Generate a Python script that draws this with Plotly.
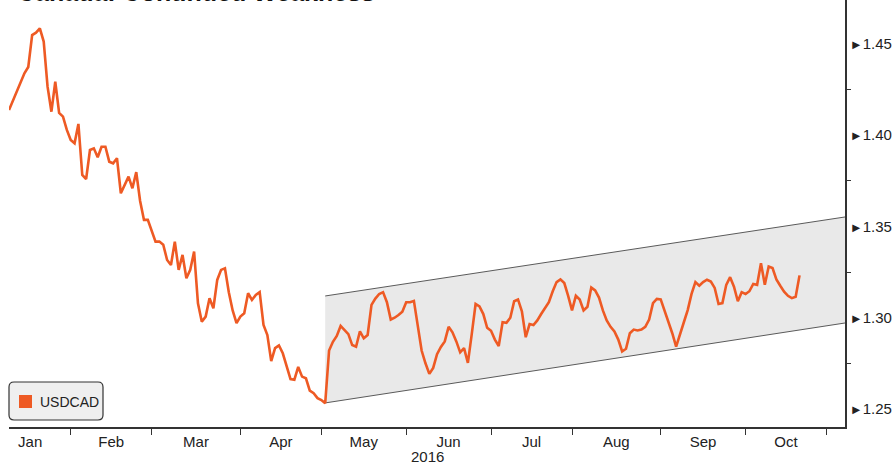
import pandas as pd
import plotly.graph_objects as go

# USDCAD daily closes (weekdays), starting Friday 8 Jan 2016
start_date = "2016-01-08"
usdcad = [
    1.4138, 1.4189, 1.4239, 1.4289, 1.4339, 1.4374, 1.4549, 1.4562, 1.4586, 1.4513,
    1.4266, 1.4129, 1.4293, 1.4122, 1.4102, 1.4029, 1.3974, 1.3956, 1.4062, 1.3782,
    1.3759, 1.3919, 1.3928, 1.3879, 1.3937, 1.3937, 1.3855, 1.3846, 1.3874, 1.3682,
    1.3727, 1.3773, 1.3709, 1.3798, 1.3640, 1.3536, 1.3536, 1.3470, 1.3417, 1.3417,
    1.3400, 1.3316, 1.3289, 1.3417, 1.3262, 1.3344, 1.3216, 1.3262, 1.3362, 1.3079,
    1.2978, 1.3006, 1.3107, 1.3052, 1.3207, 1.3262, 1.3271, 1.3140, 1.3040, 1.2970,
    1.3006, 1.3024, 1.3134, 1.3097, 1.3125, 1.3140, 1.2960, 1.2905, 1.2762, 1.2833,
    1.2848, 1.2805, 1.2739, 1.2664, 1.2660, 1.2730, 1.2677, 1.2668, 1.2600, 1.2586,
    1.2559, 1.2549, 1.2531, 1.2820, 1.2868, 1.2900, 1.2955, 1.2930, 1.2910, 1.2850,
    1.2841, 1.2925, 1.2887, 1.2905, 1.3070, 1.3105, 1.3130, 1.3140, 1.3085, 1.2990,
    1.3000, 1.3015, 1.3033, 1.3085, 1.3085, 1.3092, 1.2945, 1.2820, 1.2750, 1.2692,
    1.2725, 1.2800, 1.2840, 1.2870, 1.2950, 1.2920, 1.2870, 1.2810, 1.2833, 1.2752,
    1.2910, 1.3075, 1.3062, 1.3020, 1.2945, 1.2928, 1.2880, 1.2845, 1.2975, 1.2972,
    1.3000, 1.3090, 1.3100, 1.3035, 1.2893, 1.2965, 1.2960, 1.2985, 1.3020, 1.3055,
    1.3085, 1.3145, 1.3195, 1.3210, 1.3190, 1.3120, 1.3040, 1.3120, 1.3100, 1.3040,
    1.3060, 1.3165, 1.3150, 1.3110, 1.3040, 1.2985, 1.2950, 1.2925, 1.2880, 1.2815,
    1.2830, 1.2915, 1.2935, 1.2930, 1.2935, 1.2950, 1.2990, 1.3080, 1.3103, 1.3100,
    1.3040, 1.2975, 1.2915, 1.2842, 1.2915, 1.2975, 1.3042, 1.3130, 1.3195, 1.3175,
    1.3195, 1.3208, 1.3198, 1.3163, 1.3075, 1.3080, 1.3180, 1.3222, 1.3170, 1.3090,
    1.3140, 1.3130, 1.3145, 1.3185, 1.3180, 1.3298, 1.3180, 1.3280, 1.3272, 1.3210,
    1.3175, 1.3143, 1.3120, 1.3107, 1.3115, 1.3232,
]
dates = pd.bdate_range(start_date, periods=len(usdcad))

# Rising channel drawn from the May low
channel_dates = ["2016-05-03", "2016-11-07 19:00"]
channel_upper = [1.3119, 1.3552]
channel_lower = [1.2533, 1.2971]

month_labels = ["Jan", "Feb", "Mar", "Apr", "May", "Jun", "Jul", "Aug", "Sep", "Oct"]
month_starts = ["2016-02-01", "2016-03-01", "2016-04-01", "2016-05-02", "2016-06-01",
                "2016-07-01", "2016-08-01", "2016-09-01", "2016-10-03", "2016-11-01"]
y_ticks = [1.25, 1.30, 1.35, 1.40, 1.45]
y_minor_ticks = [1.275, 1.325, 1.375, 1.425]
x_range = ["2016-01-08", "2016-11-07 19:00"]
y_range = [1.2401, 1.4741]

LINE_COLOR = "#ee5a24"
FONT = "Liberation Sans"

# Month labels sit halfway (in trading days) between consecutive month boundaries
bdays = pd.bdate_range("2016-01-01", "2016-12-31")
bpos = {d: k for k, d in enumerate(bdays)}
bounds = [pd.Timestamp("2016-01-01")] + [pd.Timestamp(m) for m in month_starts]
label_pos = []
for a, b in zip(bounds[:-1], bounds[1:]):
    mid = (bpos[a] + bpos[b]) / 2
    base = int(mid)
    label_pos.append(bdays[base] + pd.Timedelta(days=mid - base))

fig = go.Figure()

# channel band
fig.add_trace(go.Scatter(
    x=[channel_dates[0], channel_dates[1], channel_dates[1], channel_dates[0]],
    y=[channel_lower[0], channel_lower[1], channel_upper[1], channel_upper[0]],
    fill="toself", fillcolor="#e9e9e9", mode="lines", line=dict(width=0),
    hoverinfo="skip", showlegend=False,
))
for edge in (channel_upper, channel_lower):
    fig.add_trace(go.Scatter(
        x=channel_dates, y=edge, mode="lines",
        line=dict(color="#5a5a5a", width=1), hoverinfo="skip", showlegend=False,
    ))

fig.add_trace(go.Scatter(
    x=dates, y=usdcad, mode="lines", name="USDCAD",
    line=dict(color=LINE_COLOR, width=2.6), showlegend=False,
))

fig.update_xaxes(
    type="date",
    rangebreaks=[dict(bounds=["sat", "mon"])],
    range=x_range,
    showline=True, linecolor="#333333", linewidth=1.5,
    showgrid=False, zeroline=False,
    tickmode="array", tickvals=label_pos, ticktext=month_labels, ticks="",
    tickfont=dict(family=FONT, size=15, color="#222222"),
    minor=dict(tickmode="array", tickvals=month_starts, ticks="outside",
               ticklen=6, tickwidth=1, tickcolor="#333333", showgrid=False),
)
fig.update_yaxes(
    side="right", range=y_range,
    showline=True, linecolor="#333333", linewidth=1.5,
    showgrid=False, zeroline=False,
    tickmode="array", tickvals=y_ticks,
    ticktext=["<span style='font-size:13px'>\u25ba</span>%.2f" % v for v in y_ticks],
    ticks="",
    tickfont=dict(family=FONT, size=15, color="#222222"),
    minor=dict(tickmode="array", tickvals=y_minor_ticks, ticks="outside",
               ticklen=4, tickwidth=1, tickcolor="#333333", showgrid=False),
)

# legend box with rounded corners (pixel units from the plot's lower-left corner)
fig.add_shape(
    type="path", xref="paper", yref="paper", xsizemode="pixel", ysizemode="pixel",
    xanchor=0, yanchor=0,
    path="M 5,7 L 89,7 Q 94,7 94,12 L 94,40 Q 94,45 89,45 L 5,45 Q 0,45 0,40 L 0,12 Q 0,7 5,7 Z",
    fillcolor="#efefef", line=dict(color="#333333", width=1.2), layer="above",
)
fig.add_shape(
    type="rect", xref="paper", yref="paper", xsizemode="pixel", ysizemode="pixel",
    xanchor=0, yanchor=0, x0=10, x1=23, y0=19, y1=32,
    fillcolor=LINE_COLOR, line=dict(width=0), layer="above",
)
fig.add_annotation(
    text="USDCAD", xref="paper", yref="paper", x=0, y=0, xshift=29, yshift=25,
    xanchor="left", yanchor="middle", showarrow=False,
    font=dict(family=FONT, size=14, color="#222222"),
)

fig.add_annotation(
    text="2016", xref="paper", yref="paper", x=0.5, y=-0.07,
    xanchor="center", yanchor="middle", showarrow=False,
    font=dict(family=FONT, size=15, color="#222222"),
)
fig.add_annotation(
    text="<b>Canada: Continued Weakness</b>", xref="paper", yref="paper",
    x=0.007, y=1, yshift=-8, xanchor="left", yanchor="bottom", showarrow=False,
    font=dict(family=FONT, size=25, color="#111111"),
)

fig.update_layout(
    width=892, height=465,
    margin=dict(l=9, r=44, t=0, b=38),
    paper_bgcolor="white", plot_bgcolor="white",
    showlegend=False,
)

fig.write_html("out.html")
